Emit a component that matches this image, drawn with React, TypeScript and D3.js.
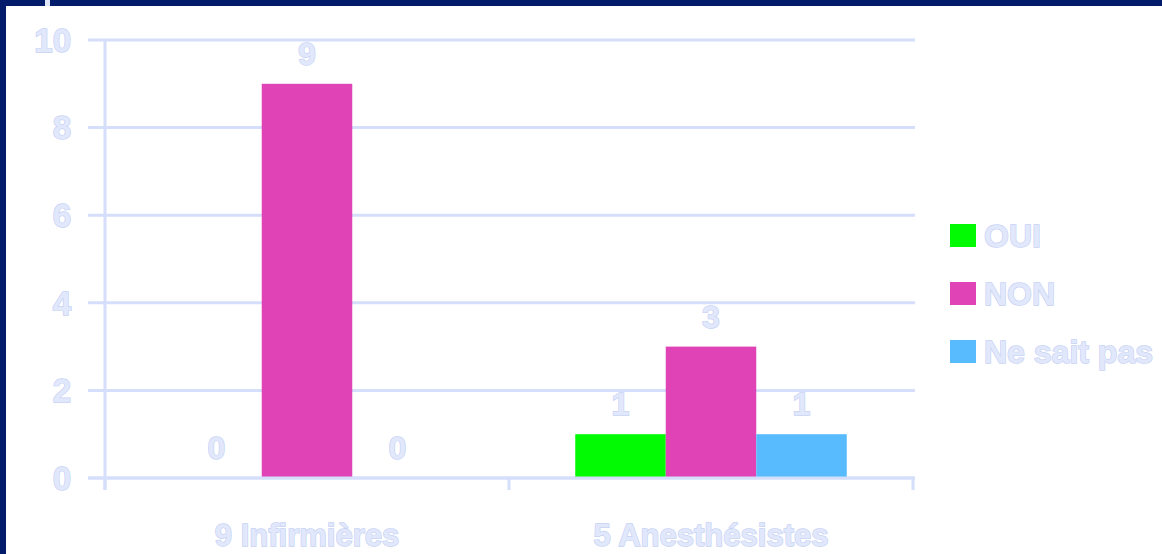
import React from "react";
import * as d3 from "d3";

const categories = ["9 Infirmières", "5 Anesthésistes"];
const seriesNames = ["OUI", "NON", "Ne sait pas"];
const seriesColors = ["#02fa02", "#df43b6", "#57bbfd"];
const ouiValues = [0, 1];
const nonValues = [9, 3];
const nspValues = [0, 1];
const yTicks = [0, 2, 4, 6, 8, 10];

const W = 1162;
const H = 554;
const left = 105;
const right = 913;
const top = 40;
const bottom = 478;
const textFill = "#e2e8fb";
const textStroke = "#c6d2f5";
const gridColor = "#d5defa";
const font = "'Liberation Sans', Arial, sans-serif";

export default function App() {
  const series = [ouiValues, nonValues, nspValues];
  const x = d3.scaleBand<string>().domain(categories).range([left, right]).paddingInner(0).paddingOuter(0);
  const y = d3.scaleLinear().domain([0, 10]).range([bottom, top]);
  const barW = 90.5;
  const inner = d3
    .scaleBand<string>()
    .domain(seriesNames)
    .range([0, barW * seriesNames.length]);

  const textProps = {
    fill: textFill,
    stroke: textStroke,
    strokeWidth: 1.4,
    fontFamily: font,
    fontWeight: 700,
    paintOrder: "stroke",
  } as any;

  return (
    <svg
      width={W}
      height={H}
      style={{ position: "absolute", left: 0, top: 0, display: "block", background: "#fff" }}
    >
      <rect x={0} y={0} width={W} height={H} fill="#ffffff" />
      {/* gridlines */}
      {yTicks.map((t) => (
        <line
          key={"g" + t}
          x1={88}
          x2={915}
          y1={y(t)}
          y2={y(t)}
          stroke={gridColor}
          strokeWidth={3}
        />
      ))}
      {/* y axis */}
      <line x1={left} x2={left} y1={top} y2={490} stroke={gridColor} strokeWidth={3} />
      {/* x axis ticks */}
      {[left, ...categories.map((c) => (x(c) as number) + x.bandwidth())].map((px, i) => (
        <line key={"xt" + i} x1={px} x2={px} y1={bottom} y2={490} stroke={gridColor} strokeWidth={3} />
      ))}
      {/* y tick labels */}
      {yTicks.map((t) => (
        <text
          key={"yl" + t}
          x={71}
          y={y(t)}
          dy="0.36em"
          textAnchor="end"
          fontSize={33}
          {...textProps}
        >
          {t}
        </text>
      ))}
      {/* bars */}
      {categories.map((c, ci) => {
        const gx = (x(c) as number) + x.bandwidth() / 2 - (barW * seriesNames.length) / 2;
        return (
          <g key={c}>
            {seriesNames.map((s, si) => {
              const v = series[si][ci];
              const bx = gx + (inner(s) as number);
              return (
                <g key={s}>
                  {v > 0 && (
                    <rect
                      x={bx}
                      y={y(v)}
                      width={inner.bandwidth()}
                      height={bottom - y(v)}
                      fill={seriesColors[si]}
                    />
                  )}
                  <text
                    x={bx + inner.bandwidth() / 2}
                    y={y(v) - 19}
                    textAnchor="middle"
                    fontSize={32}
                    {...textProps}
                  >
                    {v}
                  </text>
                </g>
              );
            })}
          </g>
        );
      })}
      {/* x axis line */}
      <line x1={88} x2={915} y1={bottom} y2={bottom} stroke={gridColor} strokeWidth={3} />
      {/* category labels */}
      {categories.map((c) => (
        <text
          key={"cl" + c}
          x={(x(c) as number) + x.bandwidth() / 2}
          y={546}
          textAnchor="middle"
          fontSize={31}
          {...textProps}
        >
          {c}
        </text>
      ))}
      {/* legend */}
      {seriesNames.map((s, i) => (
        <g key={"lg" + s} transform={`translate(950, ${224 + i * 58})`}>
          <rect x={0} y={0} width={26} height={23} fill={seriesColors[i]} />
          <text x={34} y={11.5} dy="0.36em" fontSize={32} {...textProps}>
            {s}
          </text>
        </g>
      ))}
      {/* frame */}
      <rect x={0} y={0} width={W} height={6} fill="#021c6b" />
      <rect x={0} y={0} width={6} height={H} fill="#021c6b" />
      <rect x={45} y={0} width={5} height={6} fill="#dfe6f8" />
    </svg>
  );
}
